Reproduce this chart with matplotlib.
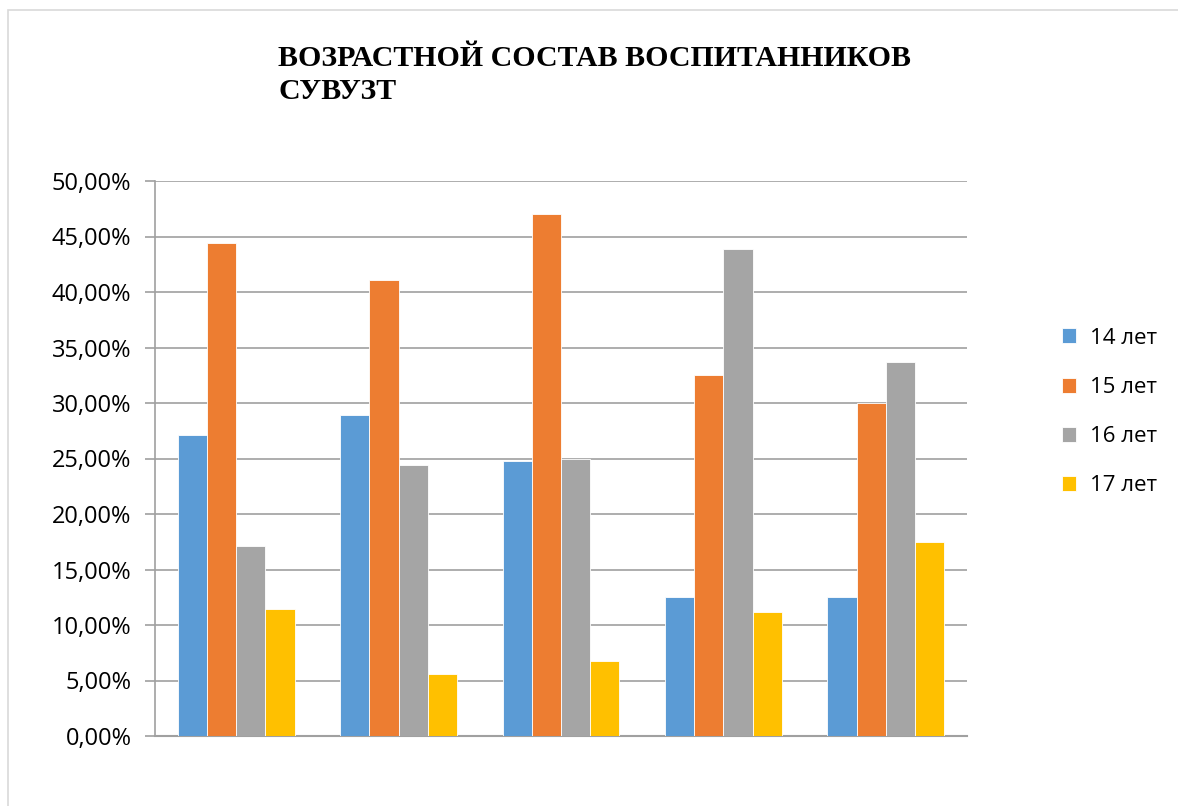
import numpy as np
import matplotlib.pyplot as plt
from matplotlib.patches import Rectangle
from matplotlib.ticker import FuncFormatter

# data (percent)
groups = ['1', '2', '3', '4', '5']
series_names = ['14 лет', '15 лет', '16 лет', '17 лет']
age14 = [27.1, 28.9, 24.8, 12.5, 12.5]
age15 = [44.4, 41.1, 47.0, 32.5, 30.0]
age16 = [17.1, 24.4, 25.0, 43.85, 33.7]
age17 = [11.4, 5.6, 6.8, 11.2, 17.5]
colors = ['#5B9BD5', '#ED7D31', '#A5A5A5', '#FFC000']

fig = plt.figure(figsize=(11.78, 8.06), dpi=100)
ax = fig.add_axes([155 / 1178, 1 - 736 / 806, (967 - 155) / 1178, (736 - 181) / 806])

# light outer frame like the Excel chart area
fig.patches.append(Rectangle((8 / 1178, -0.1), 1.1, (806 - 10) / 806 + 0.1,
                             transform=fig.transFigure, fill=False,
                             edgecolor='#d9d9d9', linewidth=1.2))

x = np.arange(len(groups))
w = 0.18
for i, (vals, name) in enumerate(zip([age14, age15, age16, age17], series_names)):
    ax.bar(x + (i - 1.5) * w, vals, width=w, color=colors[i], label=name,
           edgecolor='white', linewidth=0.6, zorder=3)

ax.set_xlim(-0.5, len(groups) - 0.5)
ax.set_ylim(0, 50)
ax.set_yticks(np.arange(0, 51, 5))
ax.yaxis.set_major_formatter(FuncFormatter(lambda v, p: f'{v:.2f}%'.replace('.', ',')))
ax.set_xticks([])
ax.grid(axis='y', color='#a0a0a0', linewidth=1.2, zorder=0)
for s in ['top', 'right']:
    ax.spines[s].set_visible(False)
ax.spines['left'].set_color('#a0a0a0')
ax.spines['bottom'].set_color('#a0a0a0')
ax.spines['left'].set_linewidth(1.2)
ax.spines['bottom'].set_linewidth(1.5)
ax.tick_params(axis='y', colors='#a0a0a0', labelcolor='black', length=7,
               width=1.2, labelsize=17, pad=10)
for lbl in ax.get_yticklabels():
    lbl.set_family(['Open Sans', 'DejaVu Sans'])

fig.text(278 / 1178, 1 - 45 / 806, 'ВОЗРАСТНОЙ СОСТАВ ВОСПИТАННИКОВ\nСУВУЗТ',
         family=['Liberation Serif', 'DejaVu Serif'], fontweight='bold',
         fontsize=21.5, ha='left', va='top', linespacing=1.28)

ax.legend(loc='center left', bbox_to_anchor=(1062 / 1178, 1 - 412 / 806),
          bbox_transform=fig.transFigure, frameon=False,
          borderaxespad=0, borderpad=0,
          handlelength=0.65, handleheight=0.65, handletextpad=0.6,
          labelspacing=1.27,
          prop={'family': ['Open Sans', 'DejaVu Sans'], 'size': 16})

fig.savefig('out.png', dpi=100)
